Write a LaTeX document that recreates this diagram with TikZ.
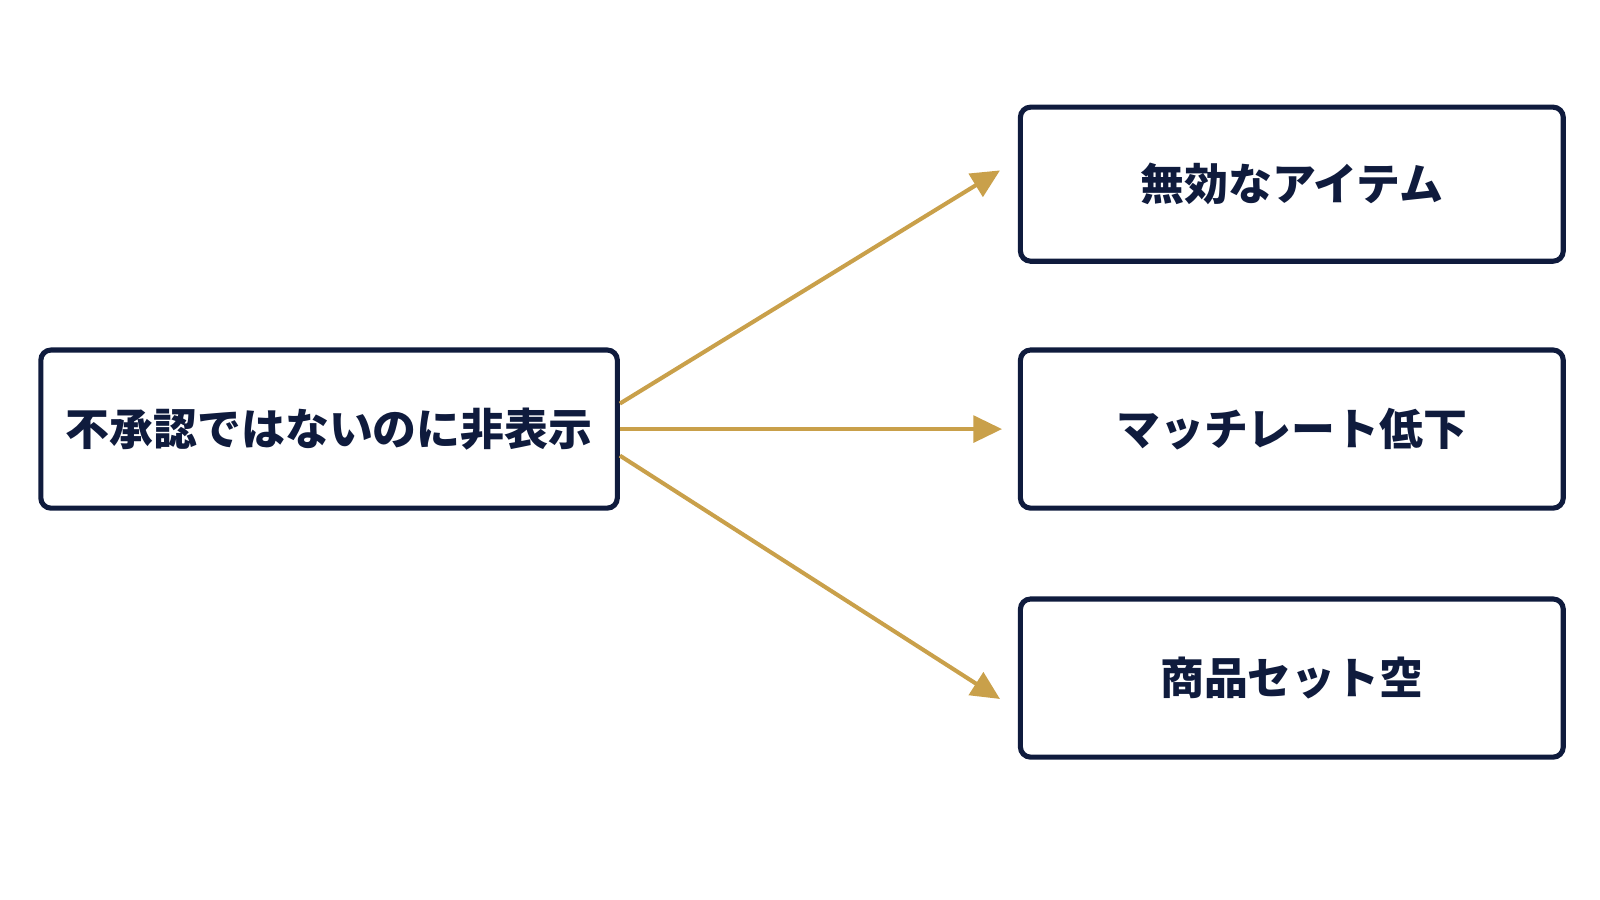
\documentclass[tikz,border=0pt]{standalone}
\usepackage{fontspec}
\newfontfamily\cjk{Noto Sans CJK JP}
\usetikzlibrary{arrows.meta}
\definecolor{navy}{HTML}{0F1B3D}
\definecolor{gold}{HTML}{C9A04A}
\tikzset{
  box/.style={draw=navy, line width=2.5pt, rounded corners=5pt, fill=white,
    text=navy, font=\cjk\bfseries\fontsize{21.5}{26}\selectfont, inner sep=0pt},
  link/.style={draw=gold, line width=2pt, -{Triangle[length=14pt,width=13pt]}}
}
\begin{document}
\begin{tikzpicture}[x=0.5pt,y=-0.5pt]
        \useasboundingbox (0,0) rectangle (1568,882);

        \node[box, minimum width=282.5pt, minimum height=77.5pt] (src) at (322.5,420.5) {不承認ではないのに非表示};
        \node[box, minimum width=266pt, minimum height=75.5pt] (inv) at (1266,180.5) {無効なアイテム};
        \node[box, minimum width=266pt, minimum height=77.5pt] (rate) at (1266,420.5) {マッチレート低下};
        \node[box, minimum width=266pt, minimum height=77.5pt] (empty) at (1266,664.5) {商品セット空};

        \coordinate (s1) at ([yshift=12.5pt]src.east);
        \coordinate (s3) at ([yshift=-13pt]src.east);
        \coordinate (t1) at (980,167);
        \coordinate (t2) at (982,420.5);
        \coordinate (t3) at (980,685);

        \draw[link] (s1) -- (t1);
        \draw[link] (src.east) -- (t2);
        \draw[link] (s3) -- (t3);
    \end{tikzpicture}
\end{document}
